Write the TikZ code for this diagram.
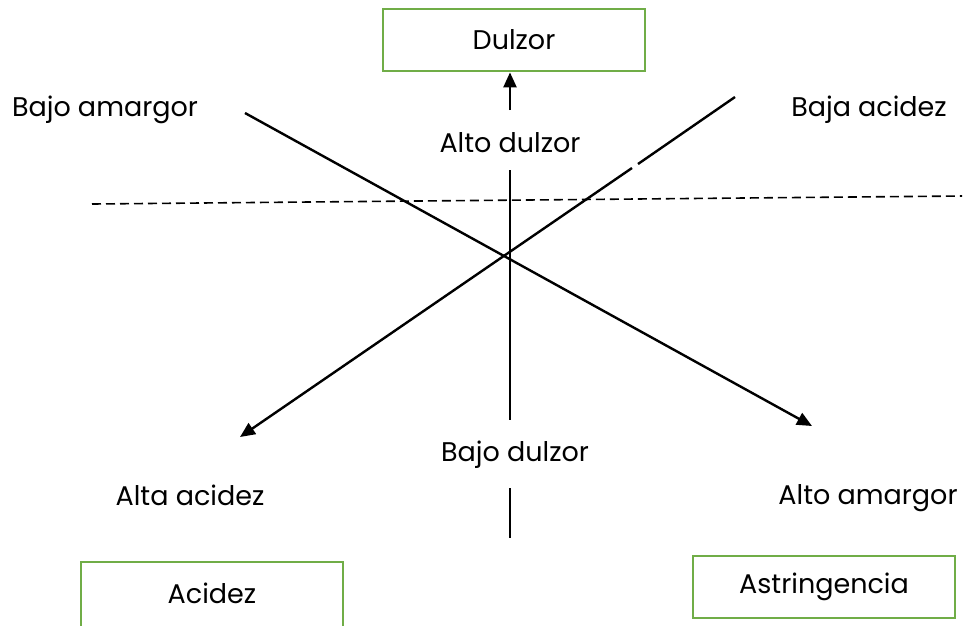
\documentclass[tikz,border=0pt]{standalone}
\usepackage{fontspec}
\setmainfont{Poppins}
\usetikzlibrary{arrows.meta}
\definecolor{boxgreen}{HTML}{70AD47}
\tikzset{
  px/.style={x=1pt,y=-1pt},
  txtfont/.style={font=\fontsize{27}{31}\selectfont},
  lbl/.style={txtfont, inner sep=0pt, anchor=center},
  greenbox/.style={draw=boxgreen, line width=2.8pt, minimum width=262pt, minimum height=62pt, inner sep=0pt, txtfont},
  axis/.style={line width=2.4pt, black},
  tip/.style={-{Triangle[length=15pt,width=13pt]}}
}
\begin{document}
\begin{tikzpicture}[px]
\useasboundingbox (0,0) rectangle (971,625);
\clip (0,0) rectangle (971,625);
\fill[white] (0,0) rectangle (971,625);
% boxes
\node[greenbox] (dulzor) at (514,40) {Dulzor};
\node[greenbox, minimum height=80pt] (acidez) at (212,602) {\raisebox{18pt}{Acidez}};
\node[greenbox] (astr) at (824,587) {Astringencia};
% labels
\node[lbl] (bajoamargor) at (105,110) {Bajo amargor};
\node[lbl] (bajaacidez) at (869,110) {Baja acidez};
\node[lbl] (altodulzor) at (510,143) {Alto dulzor};
\node[lbl] (bajodulzor) at (515,455) {Bajo dulzor};
\node[lbl] (altaacidez) at (190,495) {Alta acidez};
\node[lbl] (altoamargor) at (868,498) {Alto amargor};
% coordinates
\coordinate (up0) at (510,110);
\coordinate (v1) at (510,170);
\coordinate (v2) at (510,420);
\coordinate (v3) at (510,488);
\coordinate (v4) at (510,538);
\coordinate (d1) at (92,204);
\coordinate (d2) at (962,196);
\coordinate (m1) at (245,113);
\coordinate (m2) at (812,426);
\coordinate (a1) at (735,97);
\coordinate (ag1) at (638,164);
\coordinate (ag2) at (632,168);
\coordinate (a2) at (240,437);
% lines
\draw[axis, tip] (up0) -- (up0 |- dulzor.south);
\draw[axis] (v1) -- (v2);
\draw[axis] (v3) -- (v4);
\draw[line width=1.6pt, dash pattern=on 9pt off 5pt] (d1) -- (d2);
\draw[axis, tip] (m1) -- (m2);
\draw[axis] (a1) -- (ag1);
\draw[axis, tip] (ag2) -- (a2);
\end{tikzpicture}
\end{document}
